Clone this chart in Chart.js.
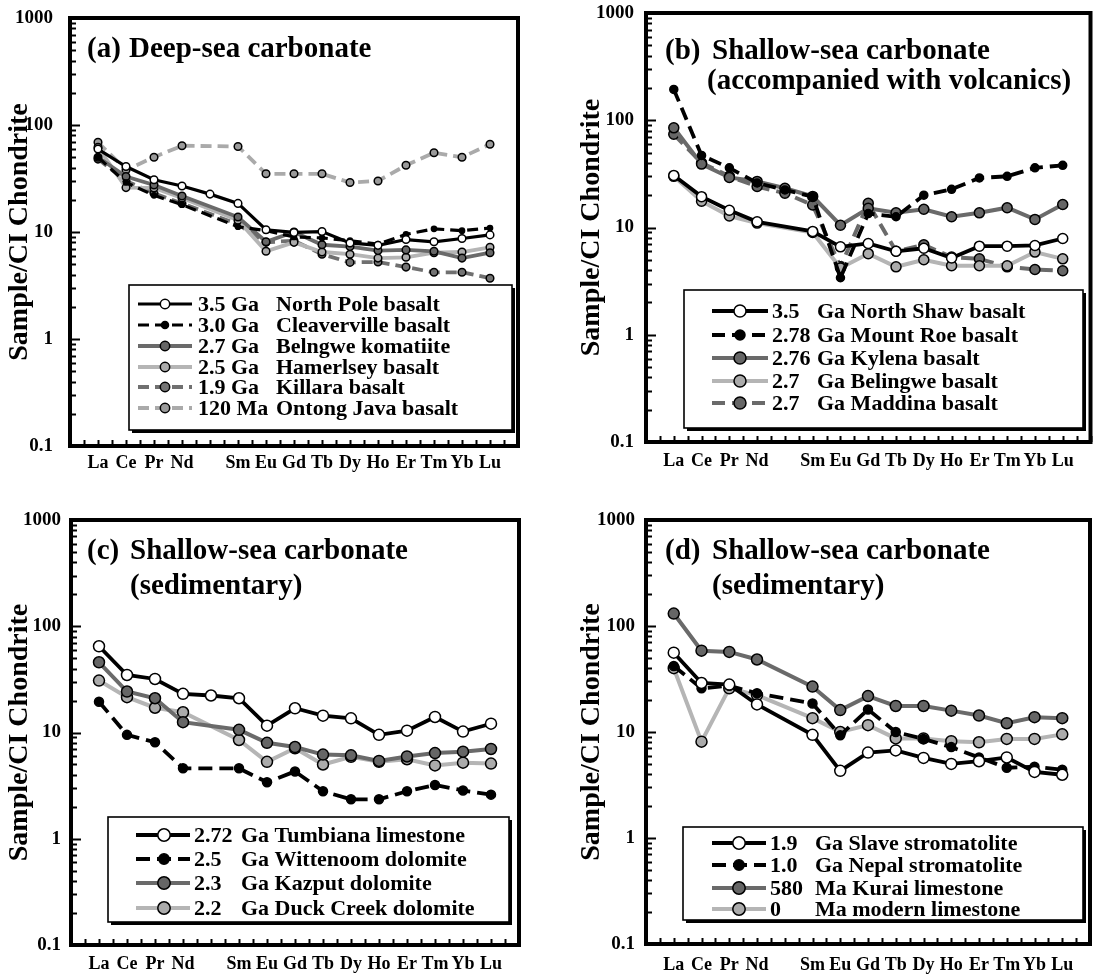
<!DOCTYPE html>
<html><head><meta charset="utf-8">
<script src="https://cdn.jsdelivr.net/npm/chart.js@4.4.1/dist/chart.umd.min.js"></script>
<style>
html,body{margin:0;padding:0;background:#fff;width:1097px;height:974px;overflow:hidden}
.p{position:absolute}
canvas{display:block}
</style></head><body>
<div class="p" style="left:0;top:0"><canvas id="ca" width="548" height="487"></canvas></div>
<div class="p" style="left:548px;top:0"><canvas id="cb" width="549" height="487"></canvas></div>
<div class="p" style="left:0;top:487px"><canvas id="cc" width="548" height="487"></canvas></div>
<div class="p" style="left:548px;top:487px"><canvas id="cd" width="549" height="487"></canvas></div>
<script>
// ---------- DATA ----------
const elements = ['La','Ce','Pr','Nd','','Sm','Eu','Gd','Tb','Dy','Ho','Er','Tm','Yb','Lu'];
const yTickLabels = ['0.1','1','10','100','1000'];
const yAxisTitle = 'Sample/CI Chondrite';

// (a) Deep-sea carbonate
const aNorthPole   = [59.6, 40.9, 30.8, 26.9, 22.6, 18.5, 10.5, 9.9, 10.1, 7.9, 7.5, 8.5, 8.1, 8.7, 9.4];
const aCleaverville= [50, 29, 22, 18, null, 11.2, 10.3, 9.0, 8.8, 8.3, 7.7, 9.5, 10.7, 10.3, 10.9];
const aBelngwe     = [50, 33, 27.5, 21.7, null, 13.8, 8.1, 10.0, 7.6, 7.3, 6.7, 6.8, 6.6, 5.7, 6.4];
const aHamersley   = [62, 26, 25.8, 20.8, null, 12.9, 6.6, 8.0, 6.5, 6.2, 5.7, 5.8, 6.4, 6.5, 7.2];
const aKillara     = [48, 30, 23, 18.5, null, 11.8, 8.0, 8.3, 6.2, 5.2, 5.25, 4.7, 4.2, 4.2, 3.7];
const aOntongJava  = [69, 38, 50, 64, null, 63, 35, 35, 35, 29, 30, 42, 55, 50, 66];
const aAges  = ['3.5','3.0','2.7','2.5','1.9','120'];
const aUnits = ['Ga','Ga','Ga','Ga','Ga','Ma'];
const aNames = ['North Pole basalt','Cleaverville basalt','Belngwe komatiite','Hamerlsey basalt','Killara basalt','Ontong Java basalt'];

// (b) Shallow-sea carbonate (accompanied with volcanics)
const bNorthShaw = [30.6, 19.4, 14.5, 11.3, null, 9.2, 6.6, 7.1, 6.0, 6.4, 5.2, 6.7, 6.7, 6.8, 7.9];
const bMountRoe  = [194, 47, 36, 26, 22.4, 19.4, 3.4, 13.5, 12.6, 20, 22.7, 29, 30, 36, 38];
const bKylena    = [85, 39, 29.3, 26.9, 23.2, 19.5, 10.5, 15.1, 13.7, 14.8, 12.6, 13.7, 15.3, 11.9, 16.4];
const bBelingwe  = [30, 17.6, 12.8, 11, null, 9, 4.2, 5.7, 4.3, 5.0, 4.4, 4.4, 4.4, 5.9, 5.1];
const bMaddina   = [74, 40, 30, 24.1, 20.9, 16.2, 4.3, 16.8, 6.0, 6.9, 5.3, 5.1, 4.3, 4.06, 3.95];
const bAges  = ['3.5','2.78','2.76','2.7','2.7'];
const bUnits = ['Ga','Ga','Ga','Ga','Ga'];
const bNames = ['North Shaw basalt','Mount Roe basalt','Kylena basalt','Belingwe basalt','Maddina basalt'];

// (c) Shallow-sea carbonate (sedimentary)
const cTumbiana  = [64.8, 34.8, 31.9, 23.1, 22.3, 21.0, 11.6, 16.9, 14.4, 13.6, 9.5, 10.4, 14.0, 10.2, 12.1];
const cWittenoom = [19.5, 9.5, 8.1, 4.6, null, 4.6, 3.4, 4.3, 2.8, 2.35, 2.35, 2.8, 3.2, 2.85, 2.6];
const cKazput    = [45.8, 24.3, 21.0, 12.5, null, 10.6, 8.0, 7.3, 6.2, 6.1, 5.4, 5.95, 6.4, 6.6, 7.0];
const cDuckCreek = [30.8, 21.5, 17.1, 15.5, null, 8.5, 5.3, 7.1, 5.0, 5.9, 5.3, 5.6, 4.9, 5.2, 5.1];
const cAges  = ['2.72','2.5','2.3','2.2'];
const cUnits = ['Ga','Ga','Ga','Ga'];
const cNames = ['Tumbiana limestone','Wittenoom dolomite','Kazput dolomite','Duck Creek dolomite'];

// (d) Shallow-sea carbonate (sedimentary)
const dSlave  = [56, 29, 28, 18.2, null, 9.4, 4.3, 6.4, 6.7, 5.7, 5.0, 5.3, 5.75, 4.2, 3.95];
const dNepal  = [42, 25.8, 27.3, 23.2, null, 18.6, 9.3, 16.3, 10.0, 8.6, 7.2, 5.75, 4.6, 4.7, 4.4];
const dKurai  = [131, 58.5, 57, 48.3, null, 26.8, 16.1, 21.8, 17.6, 17.6, 15.9, 14.3, 12.1, 13.8, 13.5];
const dModern = [40, 8.1, 25.8, 22.3, null, 13.5, 10.0, 11.6, 8.7, 8.7, 8.2, 8.0, 8.6, 8.6, 9.5];
const dAges  = ['1.9','1.0','580','0'];
const dUnits = ['Ga','Ga','Ma','Ma'];
const dNames = ['Slave stromatolite','Nepal stromatolite','Kurai limestone','modern limestone'];

// ---------- STYLES ----------
const SERIF = '"Liberation Serif", "Times New Roman", serif';
Chart.defaults.font.family = SERIF;
Chart.defaults.color = '#000';
const BLACK = '#000000', DARK = '#666666', DARKL = '#6a6a6a', LIGHT = '#ababab', LIGHTL = '#b5b5b5';

function style(kind, r, lw, dash) {
  const m = {
    white:  {line: BLACK, fill: '#ffffff'},
    blackd: {line: BLACK, fill: BLACK},
    dark:   {line: DARKL, fill: DARK},
    light:  {line: LIGHTL, fill: LIGHT},
    killara:{line: '#707070', fill: '#747474'},
    ontong: {line: '#aaaaaa', fill: '#9a9a9a'}
  }[kind];
  return {line: m.line, fill: m.fill, r, lw, dash: dash || []};
}

function pts(vals) { return vals.map((v, i) => ({x: i + 1, y: v})); }

const xTickVals = []; for (let v = 0; v <= 16; v += 0.5) xTickVals.push(v);
const yTickVals = [];
for (let e = -1; e <= 3; e++) for (let m = 1; m <= 9; m++) {
  const v = +(m * Math.pow(10, e)).toPrecision(6);
  if (v <= 1000) yTickVals.push({value: v, major: m === 1});
}

function makeDeco(cfg) {
  return {
    id: 'deco',
    afterDraw(chart) {
      const ctx = chart.ctx, a = chart.chartArea, sx = chart.scales.x, sy = chart.scales.y;
      ctx.save();
      ctx.strokeStyle = '#000';
      ctx.lineWidth = 2;
      sy.ticks.forEach(t => {
        const y = Math.round(sy.getPixelForValue(t.value)) + 0.5;
        const len = t.major ? 10 : 6;
        ctx.beginPath(); ctx.moveTo(a.left, y); ctx.lineTo(a.left + len, y); ctx.stroke();
      });
      sx.ticks.forEach(t => {
        const x = Math.round(sx.getPixelForValue(t.value)) + 0.5;
        ctx.beginPath(); ctx.moveTo(x, a.bottom); ctx.lineTo(x, a.bottom - 6); ctx.stroke();
      });
      ctx.lineWidth = 4;
      ctx.strokeRect(a.left, a.top, a.right - a.left, a.bottom - a.top);

      // title
      ctx.fillStyle = '#000'; ctx.textBaseline = 'middle'; ctx.textAlign = 'left';
      ctx.font = 'bold 29px ' + SERIF;
      ctx.fillText(cfg.tag, cfg.tagX, cfg.titleY[0]);
      cfg.title.forEach((t, i) => ctx.fillText(t, cfg.titleX[i], cfg.titleY[i]));

      // legend
      const L = cfg.legend;
      ctx.fillStyle = '#000'; ctx.fillRect(L.x + 3, L.y + 3, L.w, L.h);
      ctx.fillStyle = '#fff'; ctx.fillRect(L.x, L.y, L.w, L.h);
      ctx.lineWidth = 1.6; ctx.strokeStyle = '#000'; ctx.strokeRect(L.x, L.y, L.w, L.h);
      ctx.font = 'bold ' + L.font + 'px ' + SERIF;
      chart.data.datasets.forEach((ds, i) => {
        const y = L.rows[i];
        ctx.setLineDash(ds.borderDash || []);
        ctx.lineWidth = ds.borderWidth; ctx.strokeStyle = ds.borderColor;
        ctx.beginPath(); ctx.moveTo(L.x1, y); ctx.lineTo(L.x2, y); ctx.stroke();
        ctx.setLineDash([]);
        ctx.beginPath(); ctx.arc(L.mx, y, ds.pointRadius + L.grow, 0, Math.PI * 2);
        ctx.fillStyle = ds.pointBackgroundColor; ctx.fill();
        ctx.lineWidth = 1.5; ctx.strokeStyle = '#000'; ctx.stroke();
        ctx.fillStyle = '#000';
        const age = cfg.ages[i], unit = cfg.units[i], name = cfg.names[i];
        if (L.nameX) {
          ctx.fillText(age + ' ' + unit, L.ageX, y + 1);
          ctx.fillText(name, L.nameX, y + 1);
        } else {
          ctx.fillText(age, L.ageX, y + 1);
          ctx.fillText(unit, L.unitX, y + 1);
          ctx.fillText(name, L.unitX + ctx.measureText(unit + ' ').width, y + 1);
        }
      });
      ctx.restore();
    }
  };
}

function makeChart(id, cfg) {
  const canvas = document.getElementById(id);
  const W = canvas.width, H = canvas.height, pa = cfg.plot;
  return new Chart(canvas, {
    type: 'line',
    data: {
      datasets: cfg.series.map((s, i) => ({
        label: cfg.ages[i] + ' ' + cfg.units[i] + ' ' + cfg.names[i],
        data: pts(s.values),
        borderColor: s.st.line, borderWidth: s.st.lw, borderDash: s.st.dash,
        pointRadius: s.st.r, pointHoverRadius: s.st.r,
        pointBackgroundColor: s.st.fill, pointBorderColor: '#000', pointBorderWidth: 1.5,
        spanGaps: true, tension: 0, fill: false
      }))
    },
    options: {
      responsive: false, animation: false, devicePixelRatio: 1, events: [],
      layout: {padding: {left: 0, top: pa.t, right: W - pa.r, bottom: 0}},
      plugins: {legend: {display: false}, tooltip: {enabled: false}},
      scales: {
        x: {
          type: 'linear', min: 0, max: 16,
          grid: {display: false, drawTicks: false, tickLength: 0}, border: {display: false},
          afterBuildTicks: s => { s.ticks = xTickVals.map(v => ({value: v})); },
          afterFit: s => { s.height = H - pa.b; s.paddingLeft = 0; s.paddingRight = 0; },
          ticks: {autoSkip: false, maxRotation: 0, minRotation: 0, padding: cfg.xPad,
            font: {size: 18, weight: 'bold'}, color: '#000',
            callback: v => (Number.isInteger(v) && v >= 1 && v <= 15) ? elements[v - 1] : ''}
        },
        y: {
          type: 'logarithmic', min: 0.1, max: 1000,
          grid: {display: false, drawTicks: false, tickLength: 0}, border: {display: false},
          afterBuildTicks: s => { s.ticks = yTickVals.map(t => ({value: t.value, major: t.major})); },
          afterFit: s => { s.width = pa.l; s.paddingTop = 0; s.paddingBottom = 0; },
          ticks: {autoSkip: false, padding: cfg.yPad, font: {size: 19, weight: 'bold'}, color: '#000',
            callback: v => {
              const l = Math.log10(v), k = Math.round(l);
              return Math.abs(l - k) < 1e-6 ? yTickLabels[k + 1] : '';
            }},
          title: {display: true, text: yAxisTitle, font: {size: 28, weight: 'bold'}, color: '#000',
            padding: {top: cfg.titlePad, bottom: 0}}
        }
      }
    },
    plugins: [makeDeco(cfg)]
  });
}

makeChart('ca', {
  plot: {l: 70, r: 518, t: 18, b: 446}, yPad: 17, xPad: 7, titlePad: 3,
  tag: '(a)', tagX: 87, title: ['Deep-sea carbonate'], titleX: [129], titleY: [50],
  ages: aAges, units: aUnits, names: aNames,
  legend: {x: 129, y: 285, w: 383, h: 145, rows: [304, 325, 346, 367, 387, 408], x1: 138, x2: 192, mx: 165,
           grow: 0.9, font: 22, ageX: 198, nameX: 276},
  series: [
    {values: aNorthPole,    st: style('white', 3.8, 3.2)},
    {values: aCleaverville, st: style('blackd', 2.6, 3.2, [11, 6])},
    {values: aBelngwe,      st: style('dark', 3.8, 3.8)},
    {values: aHamersley,    st: style('light', 3.8, 3.8)},
    {values: aKillara,      st: style('killara', 3.8, 3.8, [11, 6])},
    {values: aOntongJava,   st: style('ontong', 3.8, 3.8, [11, 6])}
  ]
});

makeChart('cb', {
  plot: {l: 98, r: 545, t: 13, b: 442}, yPad: 12, xPad: 9, titlePad: 27,
  tag: '(b)', tagX: 117, title: ['Shallow-sea carbonate', '(accompanied with volcanics)'], titleX: [164, 159], titleY: [52, 82],
  ages: bAges, units: bUnits, names: bNames,
  legend: {x: 136, y: 290, w: 399, h: 138, rows: [311, 335, 358, 381, 403], x1: 164, x2: 220, mx: 192,
           grow: 1, font: 22, ageX: 224, unitX: 269},
  series: [
    {values: bNorthShaw, st: style('white', 5, 3.8)},
    {values: bMountRoe,  st: style('blackd', 4, 3.8, [13, 7])},
    {values: bKylena,    st: style('dark', 5, 4)},
    {values: bBelingwe,  st: style('light', 5, 4)},
    {values: bMaddina,   st: style('dark', 5, 4, [13, 7])}
  ]
});

makeChart('cc', {
  plot: {l: 71, r: 519, t: 33, b: 458}, yPad: 10, xPad: 9, titlePad: 3,
  tag: '(c)', tagX: 87, title: ['Shallow-sea carbonate', '(sedimentary)'], titleX: [130, 130], titleY: [65, 100],
  ages: cAges, units: cUnits, names: cNames,
  legend: {x: 108, y: 330, w: 401, h: 105, rows: [348, 372, 396, 421], x1: 136, x2: 190, mx: 164,
           grow: 0.7, font: 22, ageX: 194, unitX: 241},
  series: [
    {values: cTumbiana,  st: style('white', 5.5, 3.8)},
    {values: cWittenoom, st: style('blackd', 4.5, 3.8, [14, 7])},
    {values: cKazput,    st: style('dark', 5.5, 4)},
    {values: cDuckCreek, st: style('light', 5.5, 4)}
  ]
});

makeChart('cd', {
  plot: {l: 98, r: 545, t: 33, b: 457}, yPad: 11, xPad: 11, titlePad: 27,
  tag: '(d)', tagX: 117, title: ['Shallow-sea carbonate', '(sedimentary)'], titleX: [164, 164], titleY: [65, 100],
  ages: dAges, units: dUnits, names: dNames,
  legend: {x: 135, y: 340, w: 400, h: 93, rows: [356, 378, 401, 422], x1: 164, x2: 218, mx: 191,
           grow: 0.7, font: 22, ageX: 222, unitX: 267},
  series: [
    {values: dSlave,  st: style('white', 5.5, 3.8)},
    {values: dNepal,  st: style('blackd', 4.5, 3.8, [14, 7])},
    {values: dKurai,  st: style('dark', 5.5, 4)},
    {values: dModern, st: style('light', 5.5, 4)}
  ]
});
</script>
</body></html>
